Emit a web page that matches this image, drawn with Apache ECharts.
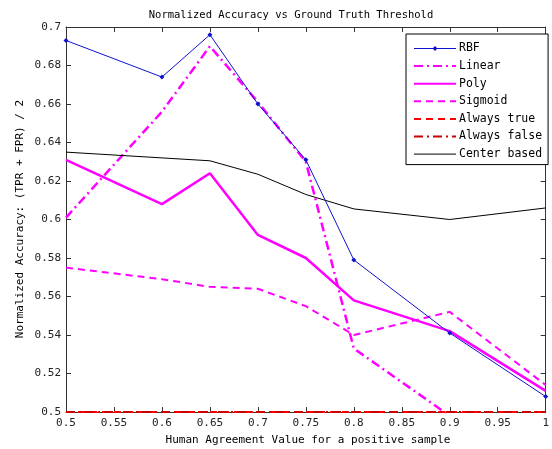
<!DOCTYPE html>
<html>
<head>
<meta charset="utf-8">
<script src="https://cdn.jsdelivr.net/npm/echarts@6/dist/echarts.min.js"></script>
<style>html,body{margin:0;padding:0;background:#fff;}#c{width:552px;height:449px;}</style>
</head>
<body>
<div id="c"></div>
<script>
var xValues = [0.5, 0.6, 0.65, 0.7, 0.75, 0.8, 0.9, 1.0];
var rbf = [0.693, 0.674, 0.696, 0.660, 0.631, 0.579, 0.541, 0.508];
var linear = [0.601, 0.656, 0.690, 0.661, 0.630, 0.533, 0.498, 0.470];
var poly = [0.631, 0.608, 0.624, 0.592, 0.580, 0.558, 0.542, 0.511];
var sigmoid = [0.575, 0.569, 0.565, 0.564, 0.555, 0.540, 0.552, 0.514];
var alwaysTrue = [0.5, 0.5, 0.5, 0.5, 0.5, 0.5, 0.5, 0.5];
var alwaysFalse = [0.5, 0.5, 0.5, 0.5, 0.5, 0.5, 0.5, 0.5];
var centerBased = [0.635, 0.632, 0.6305, 0.6235, 0.613, 0.6055, 0.600, 0.606];
var seriesNames = ['RBF', 'Linear', 'Poly', 'Sigmoid', 'Always true', 'Always false', 'Center based'];

var FONT = 'DejaVu Sans Mono';
function pairs(ys){ return xValues.map(function(x,i){ return [x, ys[i]]; }); }
function fmt(v){ return String(Math.round(v*100)/100); }

var chart = echarts.init(document.getElementById('c'));
var axisCommon = {
  axisLine: {show: true, lineStyle: {color: '#333', width: 1}},
  axisTick: {show: true, inside: true, length: 5, lineStyle: {color: '#333'}},
  splitLine: {show: false}
};
function mk(type, ys, color, width, dash, extra){
  var s = {
    name: type, type: 'line', data: pairs(ys), symbol: 'none',
    lineStyle: {color: color, width: width, type: dash},
    itemStyle: {color: color},
    z: 3, animation: false
  };
  for (var k in extra) s[k] = extra[k];
  return s;
}
chart.setOption({
  animation: false,
  grid: {left: 66, right: 1, top: 27, bottom: 37, containLabel: false},
  xAxis: [
    Object.assign({type: 'value', min: 0.5, max: 1, interval: 0.05, position: 'bottom',
      axisLabel: {formatter: fmt, fontFamily: FONT, fontSize: 11, color: '#222', margin: 6}}, axisCommon),
    Object.assign({type: 'value', min: 0.5, max: 1, interval: 0.05, position: 'top',
      axisLabel: {show: false}}, axisCommon)
  ],
  yAxis: [
    Object.assign({type: 'value', min: 0.5, max: 0.7, interval: 0.02, position: 'left',
      axisLabel: {formatter: fmt, fontFamily: FONT, fontSize: 11, color: '#222', margin: 5}}, axisCommon),
    Object.assign({type: 'value', min: 0.5, max: 0.7, interval: 0.02, position: 'right',
      axisLabel: {show: false}}, axisCommon)
  ],
  legend: {
    orient: 'vertical', left: 406, top: 34,
    backgroundColor: '#fff', borderColor: '#000', borderWidth: 1, borderRadius: 0,
    padding: [8, 6, 4, 7], itemWidth: 42, itemHeight: 6, itemGap: 4.6,
    textStyle: {fontFamily: FONT, fontSize: 11.5, color: '#000', padding: [0,0,0,-2], lineHeight: 13},
    data: seriesNames.map(function(n){
      var thin = (n === 'RBF' || n === 'Center based');
      var item = {name: n};
      if (n !== 'RBF') item.itemStyle = {opacity: 0};
      if (thin) item.lineStyle = {width: 1};
      return item;
    })
  },
  graphic: [
    {type: 'text', x: 291, y: 15,
      style: {text: 'Normalized Accuracy vs Ground Truth Threshold', font: '10.5px ' + FONT, fill: '#000', textAlign: 'center', textVerticalAlign: 'middle'}},
    {type: 'text', x: 308, y: 440,
      style: {text: 'Human Agreement Value for a positive sample', font: '11px ' + FONT, fill: '#000', textAlign: 'center', textVerticalAlign: 'middle'}},
    {type: 'text', x: 20, y: 219, rotation: Math.PI/2,
      style: {text: 'Normalized Accuracy: (TPR + FPR) / 2', font: '11px ' + FONT, fill: '#000', textAlign: 'center', textVerticalAlign: 'middle'}}
  ],
  series: [
    mk(seriesNames[0], rbf, '#1010d0', 1, 'solid', {symbol: 'diamond', symbolSize: 5, showSymbol: true, z: 6}),
    mk(seriesNames[1], linear, '#ff00ff', 2.5, [9, 4, 2, 4], {}),
    mk(seriesNames[2], poly, '#ff00ff', 2.5, 'solid', {}),
    mk(seriesNames[3], sigmoid, '#ff00ff', 2, [7, 5], {}),
    mk(seriesNames[4], alwaysTrue, '#ff0000', 2, [7, 5], {clip: false}),
    mk(seriesNames[5], alwaysFalse, '#cc0000', 2, [9, 4, 2, 4], {clip: false}),
    mk(seriesNames[6], centerBased, '#000000', 1, 'solid', {})
  ]
});
</script>
</body>
</html>
